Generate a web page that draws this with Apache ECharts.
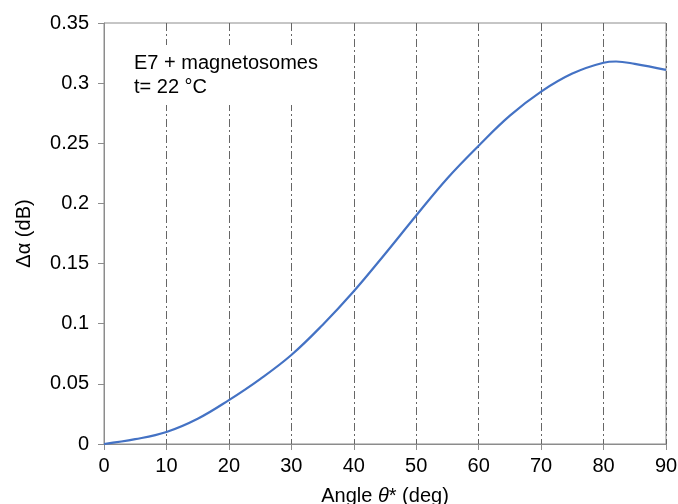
<!DOCTYPE html>
<html>
<head>
<meta charset="utf-8">
<script src="https://cdn.jsdelivr.net/npm/echarts@6/dist/echarts.min.js"></script>
<style>
  html, body { margin: 0; padding: 0; background: #fff; }
  #chart { width: 678px; height: 504px; }
</style>
</head>
<body>
<div id="chart"></div>
<script>
// angle (deg) and delta alpha (dB)
const angles = [0, 5, 10, 15, 20, 25, 30, 35, 40, 45, 50, 55, 60, 65, 70, 75, 80, 82, 85, 90];
const deltaAlpha = [0, 0.004, 0.010, 0.021, 0.0365, 0.054, 0.074, 0.099, 0.127, 0.158, 0.19, 0.221, 0.248, 0.273, 0.293, 0.308, 0.317, 0.318, 0.316, 0.311];
const noteLines = ["E7 + magnetosomes", "t= 22 °C"];

const chart = echarts.init(document.getElementById("chart"));
const font = "Liberation Sans";
const axisGray = "#8c8c8c";

chart.setOption({
  animation: false,
  grid: {
    left: 104, right: 12, top: 23, bottom: 60,
    outerBoundsMode: "none", containLabel: false,
    show: true, borderColor: axisGray, borderWidth: 1
  },
  xAxis: {
    type: "value",
    min: 0, max: 90, interval: 10,
    name: "Angle {it|θ}* (deg)",
    nameLocation: "middle",
    nameGap: 42,
    nameTextStyle: {
      fontFamily: font, fontSize: 20, color: "#000",
      rich: { it: { fontStyle: "italic", fontFamily: font, fontSize: 20, color: "#000" } }
    },
    axisLine: { lineStyle: { color: axisGray } },
    axisTick: { show: true, length: 6, lineStyle: { color: axisGray } },
    axisLabel: { fontFamily: font, fontSize: 20, color: "#000", margin: 12 },
    splitLine: { show: true, lineStyle: { color: "#666", type: [8, 3, 2, 3], width: 1 } }
  },
  yAxis: {
    type: "value",
    min: 0, max: 0.35, interval: 0.05,
    name: "Δα (dB)",
    nameLocation: "middle",
    nameGap: 70,
    nameTextStyle: { fontFamily: font, fontSize: 20, color: "#000" },
    axisLine: { show: true, lineStyle: { color: axisGray } },
    axisTick: { show: true, length: 6, lineStyle: { color: axisGray } },
    axisLabel: {
      fontFamily: font, fontSize: 20, color: "#000", margin: 15,
      formatter: v => String(+v.toFixed(2))
    },
    splitLine: { show: false }
  },
  graphic: [{
    type: "group",
    left: 120, top: 45,
    z: 100,
    children: [
      { type: "rect", z: 100, shape: { x: 0, y: 0, width: 215, height: 60 }, style: { fill: "#fff" } },
      { type: "text", z: 101, x: 14, y: 6, style: { text: noteLines.join("\n"), fontFamily: font, fontSize: 20, fill: "#000", lineHeight: 24 } }
    ]
  }],
  series: [{
    type: "line",
    data: angles.map((a, i) => [a, deltaAlpha[i]]),
    smooth: 0.4,
    showSymbol: false,
    lineStyle: { color: "#4472c4", width: 2.2 },
    z: 3
  }]
});
</script>
</body>
</html>
